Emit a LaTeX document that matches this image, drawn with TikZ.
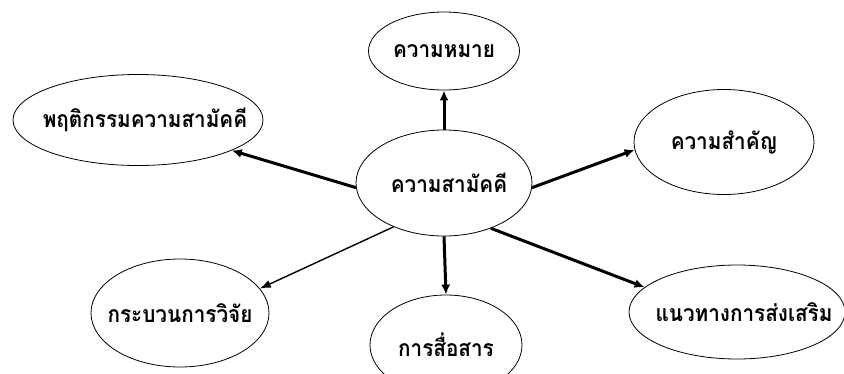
\documentclass[tikz,border=0pt]{standalone}
\usepackage{fontspec}
\newfontfamily\thaifont[Script=Thai,FakeStretch=0.9]{Loma}
\usetikzlibrary{shapes.geometric,arrows.meta}
\tikzset{
  bubble/.style={ellipse, draw=black, line width=0.8pt, inner sep=0pt, font=\thaifont\bfseries\fontsize{23}{26}\selectfont},
  thickarrow/.style={line width=3pt, -{Latex[length=10pt,width=9pt]}},
  thinarrow/.style={line width=1.4pt, -{Latex[length=11pt,width=8pt]}}
}
\newcommand{\zw}[1]{\makebox[0pt]{#1}}
\begin{document}
\begin{tikzpicture}[x=1pt,y=-1pt]
\useasboundingbox[fill=white] (0,0) rectangle (844,373);
\node[bubble, minimum width=176pt, minimum height=106pt] (c) at (444,183) {\zw{\hspace{10pt}ความสามัคคี}};
\node[bubble, minimum width=151pt, minimum height=78pt] (t) at (444,51) {\zw{ความหมาย}};
\node[bubble, minimum width=250pt, minimum height=91pt] (p) at (138,120) {\zw{\hspace{14pt}พฤติกรรมความสามัคคี}};
\node[bubble, minimum width=180pt, minimum height=105pt] (k) at (724,142) {\zw{ความสำคัญ}};
\node[bubble, minimum width=178pt, minimum height=108pt] (g) at (180,313) {\zw{กระบวนการวิจัย}};
\node[bubble, minimum width=152pt, minimum height=100pt] (s) at (446,345) {\zw{การสื่อสาร}};
\node[bubble, minimum width=216pt, minimum height=94pt] (n) at (737,312) {\zw{\hspace{14pt}แนวทางการส่งเสริม}};
\draw[thickarrow] (c.90) -- (t.south);
\draw[thickarrow] (c.183) -- (p.-18);
\draw[thickarrow] (c.-3) -- (k.185);
\draw[thinarrow] (c.221) -- (g.17);
\draw[thickarrow] (c.270) -- (s.north);
\draw[thickarrow] (c.-44) -- (n.165);
\end{tikzpicture}
\end{document}
